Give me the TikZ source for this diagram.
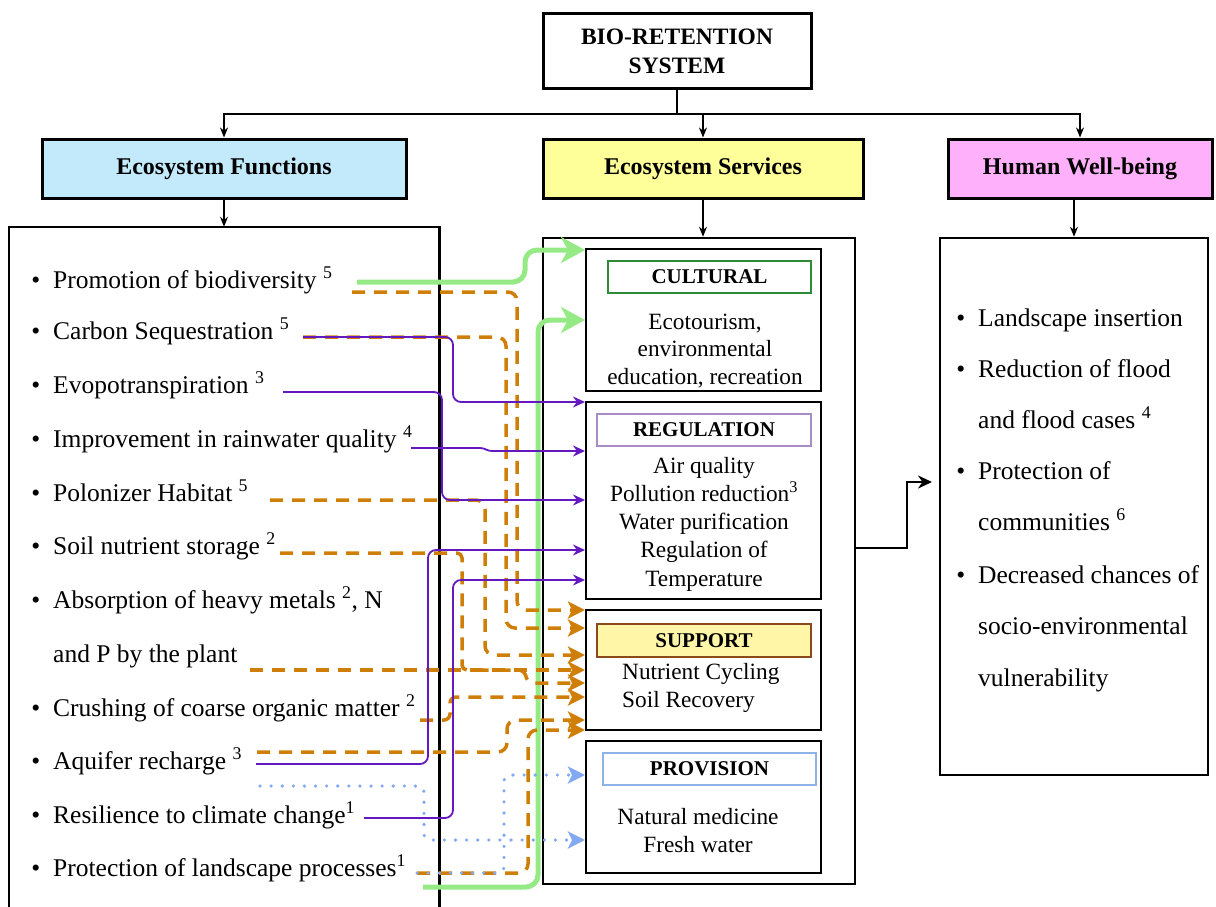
\documentclass[tikz,border=0pt]{standalone}
\usepackage{fontspec}
\setmainfont{Liberation Serif}
\usetikzlibrary{arrows.meta}
\definecolor{efblue}{HTML}{C3EAFB}
\definecolor{esyel}{HTML}{FFFF99}
\definecolor{hwpink}{HTML}{FFB0FA}
\definecolor{cgreen}{HTML}{2E8B3A}
\definecolor{rpurple}{HTML}{A88CC8}
\definecolor{sbrown}{HTML}{8B4A1E}
\definecolor{sfill}{HTML}{FFF6A8}
\definecolor{pblue}{HTML}{8DB3E8}
\definecolor{lgreen}{HTML}{96EA86}
\definecolor{lpurple}{HTML}{6418C0}
\definecolor{lorange}{HTML}{CF7F08}
\definecolor{lblue}{HTML}{82A9F2}
\newcommand{\sps}[1]{\textsuperscript{#1}}
\newcommand{\bul}{\llap{\textbullet\hspace{13pt}}}
\begin{document}
\begin{tikzpicture}[x=1pt,y=-1pt,
  head/.style={draw, line width=3pt, inner sep=0pt, font=\bfseries\fontsize{24}{29}\selectfont, align=center},
  bigbox/.style={line width=2.5pt, inner sep=0pt},
  inbox/.style={draw, line width=2pt, inner sep=0pt, minimum width=235pt},
  tbox/.style={draw, line width=1.3pt, inner sep=0pt, font=\bfseries\fontsize{21}{24}\selectfont},
  body/.style={inner sep=0pt, align=center},
  item/.style={inner sep=0pt, anchor=base west, font=\fontsize{25.5}{30}\selectfont},
  tarrow/.style={line width=1.4pt, -{Stealth[length=10pt,width=8pt]}},
  gline/.style={draw=lgreen, line width=5pt, rounded corners=12pt, -{Stealth[length=24pt,width=26pt,inset=7pt]}},
  pline/.style={draw=lpurple, line width=1.8pt, rounded corners=8pt, -{Stealth[length=12pt,width=11pt]}},
  oline/.style={draw=lorange, line width=3.5pt, dash pattern=on 13pt off 9pt, rounded corners=9pt, -{Stealth[length=17pt,width=17pt,inset=4pt]}},
  bline/.style={draw=lblue, line width=3.5pt, line cap=round, dash pattern=on 0.1pt off 11pt, rounded corners=6pt, -{Stealth[length=17pt,width=17pt,inset=4pt]}}
]
\useasboundingbox (0,0) rectangle (1216,907);

% top level
\node[head, minimum width=268pt, minimum height=75pt, font=\bfseries\fontsize{23.5}{29}\selectfont] (bio) at (677,51.5) {BIO-RETENTION\\SYSTEM};
\node[head, fill=efblue, minimum width=364pt, minimum height=59pt] (ef) at (224,168.5) {Ecosystem Functions};
\node[head, fill=esyel, minimum width=320pt, minimum height=59pt] (es) at (703,168.5) {Ecosystem Services};
\node[head, fill=hwpink, minimum width=264pt, minimum height=59pt] (hw) at (1080,168.5) {Human Well-being};

\coordinate (j) at (677,114);
\draw[line width=1.4pt] (bio.south) -- (j);
\draw[tarrow] (j) -| (ef.north);
\draw[tarrow] (j) -| (es.north);
\draw[tarrow] (j) -| (hw.north);

% big boxes
\node[bigbox, minimum width=428pt, minimum height=679pt] (lb) at (224,567.5) {};
\draw[line width=2.5pt] (lb.south west) |- (lb.north) -| (lb.south east);
\node[bigbox, draw, minimum width=312pt, minimum height=646pt] (mb) at (699,561) {};
\node[bigbox, draw, minimum width=268pt, minimum height=537pt] (rb) at (1074,506.5) {};

\draw[tarrow] (ef.south) -- (lb.north);
\draw[tarrow] (es.south) -- (es.south |- mb.north);
\draw[tarrow] (rb.north |- hw.south) -- (rb.north);

% inner boxes
\node[inbox, minimum height=142pt] (cult) at (703.5,320) {};
\node[inbox, minimum height=197pt] (reg) at (703.5,500.5) {};
\node[inbox, minimum height=120pt] (sup) at (703.5,670) {};
\node[inbox, minimum height=132pt] (prov) at (703.5,807) {};

\node[tbox, draw=cgreen, minimum width=203pt, minimum height=32pt] (cultt) at (709.5,277) {CULTURAL};
\node[tbox, draw=rpurple, minimum width=214pt, minimum height=32pt] (regt) at (704,430) {REGULATION};
\node[tbox, draw=sbrown, fill=sfill, minimum width=214pt, minimum height=33pt] (supt) at (704,640.5) {SUPPORT};
\node[tbox, draw=pblue, minimum width=213pt, minimum height=32pt] (provt) at (709.5,769) {PROVISION};

\node[body, font=\fontsize{23.3}{27.5}\selectfont] (cultx) at (705,351) {Ecotourism,\\environmental\\education, recreation};
\node[body, font=\fontsize{23.3}{28.2}\selectfont] (regx) at (704,524) {Air quality\\Pollution reduction\sps{3}\\Water purification\\Regulation of\\Temperature};
\node[body, align=left, anchor=west, font=\fontsize{23.3}{28}\selectfont] (supx) at (622,688) {Nutrient Cycling\\Soil Recovery};
\node[body, font=\fontsize{23.3}{28}\selectfont] (provx) at (698,831) {Natural medicine\\Fresh water};

% left list
\node[item] (f1) at (53,288) {\bul Promotion of biodiversity \sps{5}};
\node[item] (f2) at (53,339) {\bul Carbon Sequestration \sps{5}};
\node[item] (f3) at (53,393) {\bul Evopotranspiration \sps{3}};
\node[item] (f4) at (53,447) {\bul Improvement in rainwater quality \sps{4}};
\node[item] (f5) at (53,501) {\bul Polonizer Habitat \sps{5}};
\node[item] (f6) at (53,554) {\bul Soil nutrient storage \sps{2}};
\node[item] (f7) at (53,608) {\bul Absorption of heavy metals \sps{2}, N};
\node[item] (f8) at (53,662) {and P by the plant};
\node[item] (f9) at (53,716) {\bul Crushing of coarse organic matter \sps{2}};
\node[item] (f10) at (53,769) {\bul Aquifer recharge \sps{3}};
\node[item] (f11) at (53,823) {\bul Resilience to climate change\sps{1}};
\node[item] (f12) at (53,876) {\bul Protection of landscape processes\sps{1}};

% right list
\node[item] (h1) at (978,326) {\bul Landscape insertion};
\node[item] (h2) at (978,377) {\bul Reduction of flood};
\node[item] (h3) at (978,428) {and flood cases \sps{4}};
\node[item] (h4) at (978,479) {\bul Protection of};
\node[item] (h5) at (978,530) {communities \sps{6}};
\node[item] (h6) at (978,583) {\bul Decreased chances of};
\node[item] (h7) at (978,634) {socio-environmental};
\node[item] (h8) at (978,686) {vulnerability};

% source coordinates
\coordinate (gs1) at (357,282);
\coordinate (gs2) at (423,887);
\coordinate (os1) at (352,292);
\coordinate (ps2) at (303,337);
\coordinate (ps3) at (283,392);
\coordinate (ps4) at (411,448);
\coordinate (os5) at (270,500);
\coordinate (os6) at (280,553);
\coordinate (os8) at (250,670);
\coordinate (os9) at (420,720);
\coordinate (os10) at (257,752);
\coordinate (ps10) at (256,764);
\coordinate (bs11) at (260,786);
\coordinate (ps11) at (364,818);
\coordinate (os12) at (417,873);

% green
\draw[gline] (gs1) -- (525,282) -- (525,250) -- (cult.west |- 0,250);
\draw[gline] (gs2) -- (538,887) -- (538,320) -- (cult.west |- 0,320);

% orange
\draw[oline] (os1) -- (517,292) -- (517,610) -- (sup.west |- 0,610);
\draw[oline] (ps2) -- (506,337) -- (506,628) -- (sup.west |- 0,628);
\draw[oline] (os5) -- (485,500) -- (485,655) -- (sup.west |- 0,655);
\draw[oline] (os8) -- (sup.west |- 0,670);
\draw[oline, rounded corners=5pt] (os6) -- (462,553) -- (462,670) -- (524,670) -- (528,683) -- (sup.west |- 0,683);
\draw[oline, rounded corners=6pt] (os9) -- (450,720) -- (450,697) -- (sup.west |- 0,697);
\draw[oline] (os10) -- (507,752) -- (507,720) -- (sup.west |- 0,720);
\draw[oline] (os12) -- (528,873) -- (528,730) -- (sup.west |- 0,730);

% purple
\draw[pline] (ps2) -- (453,337) -- (453,402) -- (reg.west |- 0,402);
\draw[pline] (ps3) -- (442,392) -- (442,500) -- (reg.west |- 0,500);
\draw[pline, rounded corners=3pt] (ps4) -- (483,448) -- (489,451) -- (reg.west |- 0,451);
\draw[pline] (ps10) -- (428,764) -- (428,550) -- (reg.west |- 0,550);
\draw[pline] (ps11) -- (453,818) -- (453,580) -- (reg.west |- 0,580);

% blue
\draw[bline] (bs11) -- (424,786) -- (424,840) -- (prov.west |- 0,840);
\draw[bline] (os12) -- (504,873) -- (504,775) -- (prov.west |- 0,775);

% services -> well-being
\coordinate (hwin) at (932,482);
\draw[line width=2.5pt, -{Stealth[length=14pt,width=13pt]}] (mb.east |- 0,548) -- (907,548) -- (907,482) -- (hwin);
\end{tikzpicture}
\end{document}
